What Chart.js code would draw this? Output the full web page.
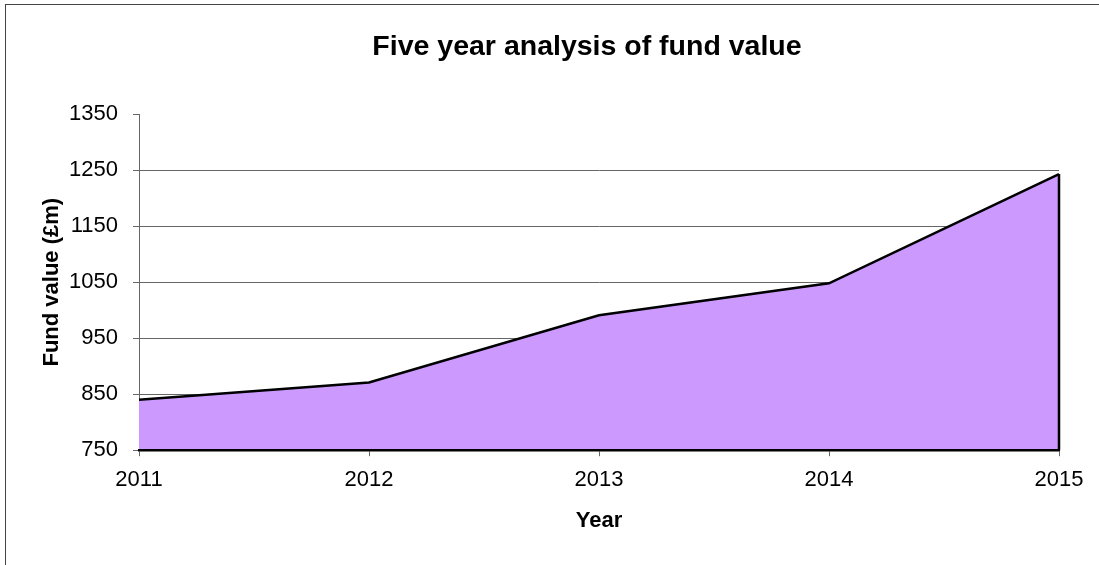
<!DOCTYPE html>
<html>
<head>
<meta charset="utf-8">
<script src="https://cdn.jsdelivr.net/npm/chart.js@4"></script>
<style>
  body { margin: 0; background: #fff; }
  #wrap { position: relative; width: 1099px; height: 565px; }
  #frame { position: absolute; left: 5px; top: 4px; right: -10px; bottom: -10px;
           border-left: 1px solid #444; border-top: 1px solid #444; pointer-events: none; }
  canvas { position: absolute; left: 0; top: 0; }
</style>
</head>
<body>
<div id="wrap">
  <canvas id="myChart" width="1099" height="565"></canvas>
  <div id="frame"></div>
</div>
<script>
// data
let years = ['2011', '2012', '2013', '2014', '2015'];
let fundValues = [840, 871, 991, 1048, 1243];
let yMin = 750, yMax = 1350, yStep = 100;

let font = 'Arial, "Liberation Sans", sans-serif';

// closes the area on the right side (vertical edge at the last year)
let edgePlugin = {
    id: 'edge',
    afterLayout(chart) {
        // title sits a little left of the plot centre in the original
        chart.titleBlock.left -= 24;
    },
    afterDatasetsDraw(chart) {
        let meta = chart.getDatasetMeta(0);
        let last = meta.data[meta.data.length - 1];
        let yScale = chart.scales.y;
        let ctx = chart.ctx;
        ctx.save();
        ctx.strokeStyle = '#000';
        ctx.lineWidth = 2.5;
        ctx.beginPath();
        ctx.moveTo(last.x, last.y);
        ctx.lineTo(last.x, yScale.getPixelForValue(yMin));
        ctx.stroke();
        ctx.restore();
    }
};

var ctx = document.getElementById('myChart').getContext('2d');

var myChart = new Chart(ctx, {
    type: 'line',
    data: {
        labels: years,
        datasets: [{
            label: 'Fund value',
            data: fundValues,
            borderColor: '#000',
            borderWidth: 2.5,
            backgroundColor: '#CC99FF',
            fill: 'start',
            tension: 0,
            pointRadius: 0
        }]
    },
    options: {
        responsive: false,
        animation: false,
        layout: { padding: { left: 0, right: 40, top: 0, bottom: 0 } },
        plugins: {
            legend: { display: false },
            tooltip: { enabled: false },
            title: {
                display: true,
                text: 'Five year analysis of fund value',
                color: '#000',
                fullSize: false,
                font: { family: font, size: 28.5, weight: 'bold' },
                padding: { top: 30, bottom: 50 }
            }
        },
        scales: {
            x: {
                offset: false,
                border: { display: true, color: '#000', width: 2.5, z: 1 },
                grid: { drawOnChartArea: false, drawTicks: true, tickLength: 6, tickColor: '#666' },
                ticks: { color: '#000', padding: 11, maxRotation: 0, font: { family: font, size: 22 } },
                title: {
                    display: true,
                    text: 'Year',
                    color: '#000',
                    font: { family: font, size: 22, weight: 'bold' },
                    padding: { top: 3, bottom: 31 }
                }
            },
            y: {
                min: yMin,
                max: yMax,
                afterFit(scale) { scale.width = 139; },
                border: { display: true, color: '#666', width: 1 },
                grid: {
                    color: (c) => (c.tick && c.tick.value === yMax) ? 'rgba(0,0,0,0)' : '#666',
                    tickColor: '#666',
                    tickLength: 6,
                    lineWidth: 1
                },
                ticks: {
                    stepSize: yStep,
                    color: '#000',
                    padding: 15,
                    font: { family: font, size: 22 },
                    callback: (v) => String(v)
                },
                title: {
                    display: true,
                    text: 'Fund value (£m)',
                    color: '#000',
                    font: { family: font, size: 22, weight: 'bold' },
                    padding: { top: 39, bottom: 0 }
                }
            }
        }
    },
    plugins: [edgePlugin]
});
</script>
</body>
</html>
